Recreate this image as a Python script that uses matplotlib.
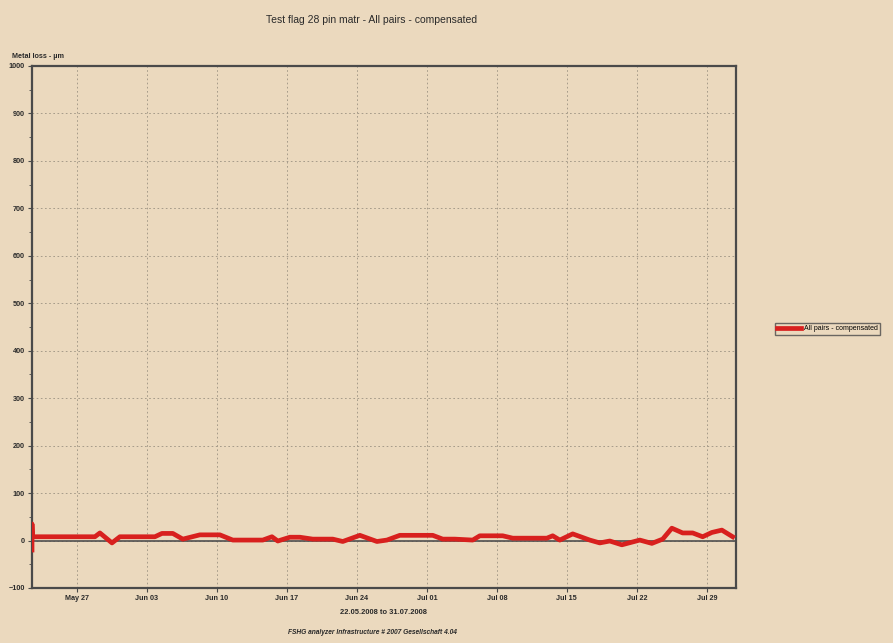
import matplotlib
matplotlib.use('Agg')
import matplotlib.pyplot as plt
import matplotlib.dates as mdates
import numpy as np
import pandas as pd

plt.rcParams['font.family'] = ['Liberation Sans', 'DejaVu Sans']

# data
times = ['2008-05-22 12:00', '2008-05-22 12:00', '2008-05-22 13:00', '2008-05-28 19:00',
         '2008-05-29 07:00', '2008-05-30 12:00', '2008-05-31 07:00', '2008-06-03 19:00',
         '2008-06-04 12:00', '2008-06-05 14:00', '2008-06-06 14:00', '2008-06-08 07:00',
         '2008-06-10 07:00', '2008-06-11 14:00', '2008-06-14 14:00', '2008-06-15 12:00',
         '2008-06-16 02:00', '2008-06-17 07:00', '2008-06-18 07:00', '2008-06-19 14:00',
         '2008-06-21 14:00', '2008-06-22 14:00', '2008-06-24 07:00', '2008-06-26 00:00',
         '2008-06-27 00:00', '2008-06-28 07:00', '2008-07-01 14:00', '2008-07-02 14:00',
         '2008-07-03 19:00', '2008-07-05 14:00', '2008-07-06 07:00', '2008-07-08 14:00',
         '2008-07-09 14:00', '2008-07-13 00:00', '2008-07-13 14:00', '2008-07-14 07:00',
         '2008-07-15 14:00', '2008-07-17 07:00', '2008-07-18 07:00', '2008-07-19 07:00',
         '2008-07-20 12:00', '2008-07-22 07:00', '2008-07-23 12:00', '2008-07-24 14:00',
         '2008-07-25 12:00', '2008-07-26 14:00', '2008-07-27 14:00', '2008-07-28 14:00',
         '2008-07-29 12:00', '2008-07-30 12:00', '2008-07-31 14:00']
metal_loss = [-20, 35, 8, 8,
              16, -5, 8, 8,
              15, 15, 3, 12,
              12, 1, 1, 8,
              -1, 7, 7, 3,
              3, -2, 11, -2,
              1, 11, 11, 3,
              3, 1, 10, 10,
              5, 5, 10, 1,
              14, 1, -5, -1,
              -9, 1, -6, 3,
              26, 16, 16, 8,
              17, 22, 8]
series_name = 'All pairs - compensated'
tick_dates = ['2008-05-27', '2008-06-03', '2008-06-10', '2008-06-17', '2008-06-24',
              '2008-07-01', '2008-07-08', '2008-07-15', '2008-07-22', '2008-07-29']
x_range = ['2008-05-22 12:00', '2008-07-31 22:00']
y_ticks = list(range(-100, 1001, 100))

bg = '#EBD9BE'
ink = '#2a2a2a'
t = pd.to_datetime(times)
ticks = pd.to_datetime(tick_dates)

fig = plt.figure(figsize=(8.93, 6.43), dpi=100, facecolor=bg)
ax = fig.add_axes([32/893, 55/643, 704/893, 522/643])
ax.set_facecolor(bg)

ax.axhline(0, color='#505050', lw=1.2, zorder=2)
line, = ax.plot(t, metal_loss, color='#D8201E', lw=3.4, zorder=3,
                solid_joinstyle='round', label=series_name)

ax.set_xlim(pd.to_datetime(x_range[0]), pd.to_datetime(x_range[1]))
ax.set_ylim(-100, 1000)
ax.set_yticks(y_ticks)
ax.set_yticks(np.arange(-50, 1000, 100), minor=True)
ax.set_xticks(ticks)
ax.xaxis.set_major_formatter(mdates.DateFormatter('%b %d'))
ax.grid(True, color='#9c9282', ls=(0, (2, 3)), lw=0.6)

for s in ax.spines.values():
    s.set_color('#4a4a4a')
    s.set_linewidth(1.6)
ax.tick_params(axis='both', labelsize=5.2, length=3, width=0.8, color='#4a4a4a',
               labelcolor=ink, pad=2)
ax.tick_params(axis='y', which='minor', length=2, width=0.6, color='#4a4a4a')
for lbl in ax.get_xticklabels() + ax.get_yticklabels():
    lbl.set_fontweight('bold')

fig.text(372/893, 1 - 20/643, 'Test flag 28 pin matr - All pairs - compensated',
         ha='center', va='center', fontsize=7.5, color=ink)
fig.text(12/893, 1 - 57/643, 'Metal loss - µm', ha='left', va='center',
         fontsize=5.2, fontweight='bold', color=ink)
fig.text(383/893, 1 - 612/643, '22.05.2008 to 31.07.2008', ha='center', va='center',
         fontsize=5.4, fontweight='bold', color=ink)
fig.text(372/893, 1 - 633/643, 'FSHG analyzer Infrastructure # 2007 Gesellschaft 4.04',
         ha='center', va='center', fontsize=4.8, style='italic', fontweight='bold',
         color=ink)

# legend kept just inside the right edge
leg = fig.legend(handles=[line], loc='center left', bbox_to_anchor=(774/893, 1 - 329/643),
                 fontsize=5, frameon=True, fancybox=False, handlelength=3.4,
                 borderpad=0.3, handletextpad=0.4, borderaxespad=0.2)
leg.get_frame().set_edgecolor('#4a4a4a')
leg.get_frame().set_facecolor(bg)
leg.get_frame().set_linewidth(1.0)

fig.savefig('out.png', dpi=100, facecolor=bg)
